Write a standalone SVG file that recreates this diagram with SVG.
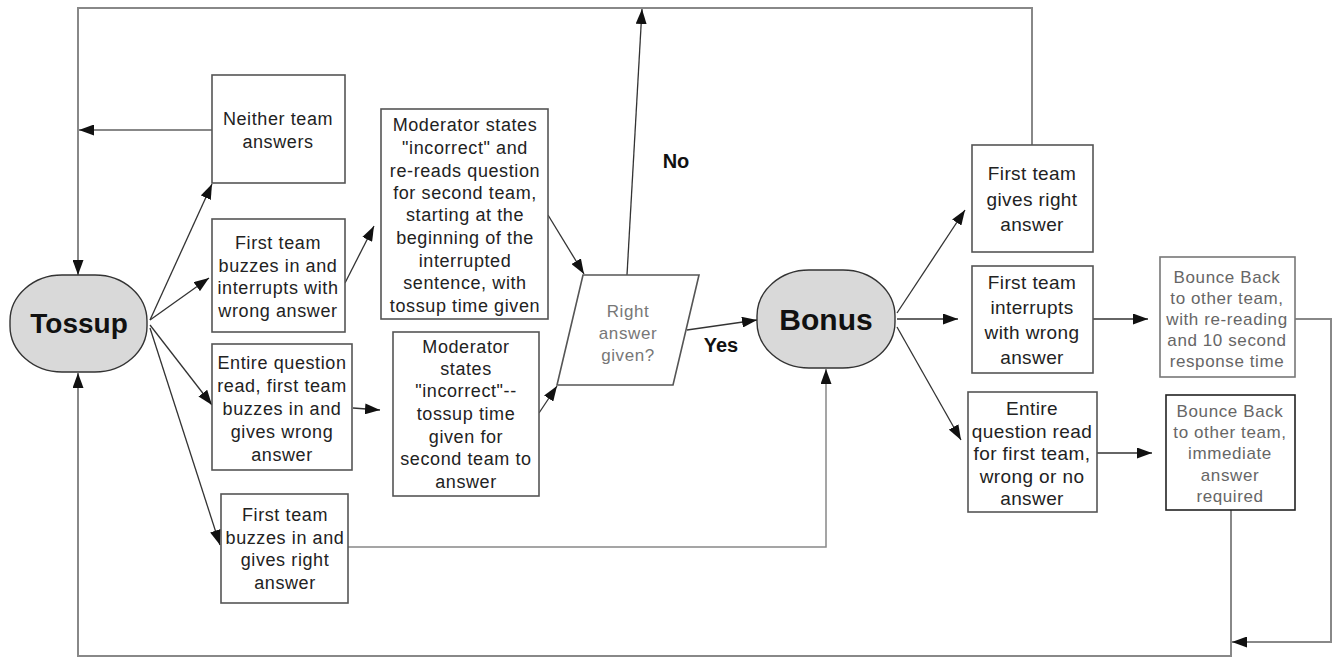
<svg xmlns="http://www.w3.org/2000/svg" width="1332" height="657" viewBox="0 0 1332 657">
<style>
  .box{fill:#fff;stroke:#555;stroke-width:1.6}
  .term{fill:#d9d9d9;stroke:#333;stroke-width:1.4}
  .t18{font-family:"Liberation Sans",Arial,sans-serif;font-size:18px;letter-spacing:0.6px;fill:#222;text-anchor:middle}
  .t19{font-family:"Liberation Sans",Arial,sans-serif;font-size:19px;letter-spacing:0.4px;fill:#222;text-anchor:middle}
  .t17{font-family:"Liberation Sans",Arial,sans-serif;font-size:17px;letter-spacing:0.6px;fill:#666;text-anchor:middle}
  .bold{font-family:"Liberation Sans",Arial,sans-serif;font-weight:bold;fill:#111;text-anchor:middle}
  .c{fill:none;stroke:#333;stroke-width:1.3}
  .loop{fill:none;stroke:#888;stroke-width:2}
</style>
<defs>
  <marker id="ah" viewBox="0 0 15 11" refX="15" refY="5.5" markerWidth="15" markerHeight="11" markerUnits="userSpaceOnUse" orient="auto">
    <path d="M0,0 L15,5.5 L0,11 z" fill="#111"/>
  </marker>
</defs>

<g id="connectors">
  <polyline class="loop" points="1032,145 1032,8 78,8 78,275" marker-end="url(#ah)"/>
  <polyline class="loop" points="1231,510 1231,656 78,656 78,373" marker-end="url(#ah)"/>
  <polyline class="loop" points="1295,319 1331,319 1331,642 1232,642" marker-end="url(#ah)"/>
  <line class="loop" x1="212" y1="130" x2="79" y2="130" marker-end="url(#ah)"/>
  <line class="c" x1="150" y1="320" x2="212" y2="184" marker-end="url(#ah)"/>
  <line class="c" x1="150" y1="320" x2="209" y2="278" marker-end="url(#ah)"/>
  <line class="c" x1="150" y1="325" x2="212" y2="405" marker-end="url(#ah)"/>
  <line class="c" x1="150" y1="328" x2="220" y2="545" marker-end="url(#ah)"/>
  <line class="c" x1="345" y1="283" x2="374" y2="226" marker-end="url(#ah)"/>
  <line class="c" x1="353" y1="408" x2="380" y2="410" marker-end="url(#ah)"/>
  <line class="c" x1="548" y1="215" x2="584" y2="274" marker-end="url(#ah)"/>
  <line class="c" x1="539" y1="413" x2="557" y2="386" marker-end="url(#ah)"/>
  <line class="c" x1="627" y1="275" x2="642" y2="9" marker-end="url(#ah)"/>
  <line class="c" x1="687" y1="330" x2="757" y2="320" marker-end="url(#ah)"/>
  <polyline class="loop" style="stroke-width:1.5" points="348,547 826,547 826,369" marker-end="url(#ah)"/>
  <line class="c" x1="897" y1="313" x2="965" y2="210" marker-end="url(#ah)"/>
  <line class="c" x1="897" y1="319" x2="958" y2="319" marker-end="url(#ah)"/>
  <line class="c" x1="897" y1="327" x2="961" y2="440" marker-end="url(#ah)"/>
  <line class="c" x1="1093" y1="319" x2="1148" y2="319" marker-end="url(#ah)"/>
  <line class="c" x1="1097" y1="453" x2="1152" y2="453" marker-end="url(#ah)"/>
</g>

<g id="labels">
  <text class="bold" x="676" y="168" font-size="20">No</text>
  <text class="bold" x="721" y="352" font-size="20">Yes</text>
</g>

<g id="tossup">
  <rect class="term" x="10" y="275" width="137" height="97" rx="52" ry="46"/>
  <text class="bold" x="79" y="333" font-size="28">Tossup</text>
</g>

<g id="neither">
  <rect class="box" x="212" y="75" width="133" height="108"/>
  <text class="t18"><tspan x="278" y="125">Neither team</tspan><tspan x="278" y="148">answers</tspan></text>
</g>

<g id="interrupt">
  <rect class="box" x="212" y="219" width="133" height="113"/>
  <text class="t18"><tspan x="278" y="249">First team</tspan><tspan x="278" y="272">buzzes in and</tspan><tspan x="278" y="294">interrupts with</tspan><tspan x="278" y="317">wrong answer</tspan></text>
</g>

<g id="entire-wrong">
  <rect class="box" x="212" y="344" width="140" height="126"/>
  <text class="t18"><tspan x="282" y="369">Entire question</tspan><tspan x="282" y="392">read, first team</tspan><tspan x="282" y="415">buzzes in and</tspan><tspan x="282" y="438">gives wrong</tspan><tspan x="282" y="461">answer</tspan></text>
</g>

<g id="buzz-right">
  <rect class="box" x="221" y="494" width="127" height="109"/>
  <text class="t18"><tspan x="285" y="521">First team</tspan><tspan x="285" y="544">buzzes in and</tspan><tspan x="285" y="566">gives right</tspan><tspan x="285" y="589">answer</tspan></text>
</g>

<g id="moderator-reread">
  <rect class="box" x="381" y="109" width="167" height="210"/>
  <text class="t18"><tspan x="465" y="131">Moderator states</tspan><tspan x="465" y="154">"incorrect" and</tspan><tspan x="465" y="177">re-reads question</tspan><tspan x="465" y="199">for second team,</tspan><tspan x="465" y="221">starting at the</tspan><tspan x="465" y="244">beginning of the</tspan><tspan x="465" y="267">interrupted</tspan><tspan x="465" y="289">sentence, with</tspan><tspan x="465" y="312">tossup time given</tspan></text>
</g>

<g id="moderator-incorrect">
  <rect class="box" x="393" y="332" width="146" height="164"/>
  <text class="t18"><tspan x="466" y="353">Moderator</tspan><tspan x="466" y="375">states</tspan><tspan x="466" y="397">"incorrect"--</tspan><tspan x="466" y="420">tossup time</tspan><tspan x="466" y="443">given for</tspan><tspan x="466" y="465">second team to</tspan><tspan x="466" y="488">answer</tspan></text>
</g>

<g id="right-answer">
  <polygon class="box" points="583,275 699,275 673,385 557,385"/>
  <text class="t17" style="fill:#777"><tspan x="628" y="317">Right</tspan><tspan x="628" y="339">answer</tspan><tspan x="628" y="361">given?</tspan></text>
</g>

<g id="bonus">
  <rect class="term" x="757" y="270" width="138" height="98" rx="52" ry="46"/>
  <text class="bold" x="826" y="330" font-size="30">Bonus</text>
</g>

<g id="bonus-right">
  <rect class="box" x="972" y="145" width="121" height="107"/>
  <text class="t19"><tspan x="1032" y="180">First team</tspan><tspan x="1032" y="206">gives right</tspan><tspan x="1032" y="231">answer</tspan></text>
</g>

<g id="bonus-interrupt">
  <rect class="box" x="972" y="266" width="121" height="107"/>
  <text class="t19"><tspan x="1032" y="289">First team</tspan><tspan x="1032" y="314">interrupts</tspan><tspan x="1032" y="339">with wrong</tspan><tspan x="1032" y="364">answer</tspan></text>
</g>

<g id="bonus-entire">
  <rect class="box" x="968" y="392" width="129" height="120"/>
  <text class="t19"><tspan x="1032" y="415">Entire</tspan><tspan x="1032" y="438">question read</tspan><tspan x="1032" y="460">for first team,</tspan><tspan x="1032" y="483">wrong or no</tspan><tspan x="1032" y="505">answer</tspan></text>
</g>

<g id="bounce-reread">
  <rect class="box" x="1160" y="257" width="135" height="120" style="stroke:#777"/>
  <text class="t17"><tspan x="1227" y="283">Bounce Back</tspan><tspan x="1227" y="304">to other team,</tspan><tspan x="1227" y="325">with re-reading</tspan><tspan x="1227" y="346">and 10 second</tspan><tspan x="1227" y="367">response time</tspan></text>
</g>

<g id="bounce-immediate">
  <rect class="box" x="1166" y="395" width="129" height="115" style="stroke:#222"/>
  <text class="t17"><tspan x="1230" y="417">Bounce Back</tspan><tspan x="1230" y="438">to other team,</tspan><tspan x="1230" y="459">immediate</tspan><tspan x="1230" y="481">answer</tspan><tspan x="1230" y="502">required</tspan></text>
</g>
</svg>
